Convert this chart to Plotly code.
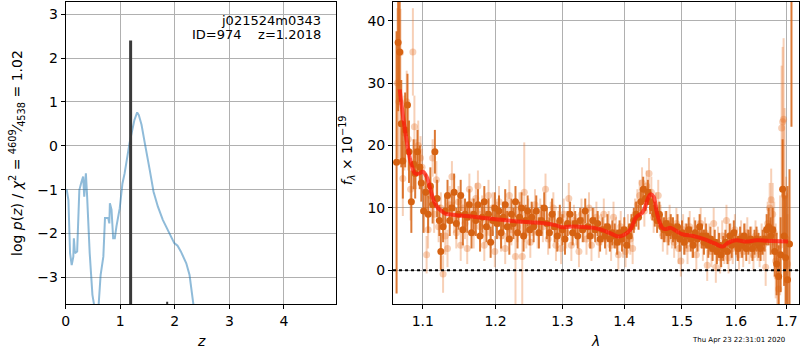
import plotly.graph_objects as go
import numpy as np

# ---------------- data: left panel (p(z)) ----------------
pz_z = [0.01, 0.02, 0.05, 0.08, 0.11, 0.14, 0.15, 0.17, 0.21, 0.25, 0.29, 0.32, 0.34, 0.37, 0.39,
        0.44, 0.49, 0.53, 0.56, 0.60, 0.64, 0.69, 0.72, 0.78, 0.80, 0.81, 0.84, 0.87, 0.90, 0.93,
        0.99, 1.04, 1.08, 1.17, 1.26, 1.31, 1.34, 1.39, 1.45, 1.49, 1.54, 1.61, 1.69, 1.78, 1.90,
        1.99, 2.05, 2.11, 2.21, 2.27, 2.33, 2.37]
pz_logp = [-1.00, -1.01, -1.24, -2.45, -2.72, -2.53, -2.11, -2.45, -2.41, -1.01, -0.82, -0.70, -1.16, -0.63, -1.08,
           -2.45, -3.40, -3.70, -4.20, -3.70, -2.95, -2.53, -1.65, -1.65, -1.77, -1.31, -1.46, -2.11, -2.11, -1.84,
           -1.43, -0.86, -0.63, 0.06, 0.59, 0.76, 0.70, 0.48, 0.06, -0.25, -0.55, -1.05, -1.39, -1.69, -2.00,
           -2.22, -2.28, -2.41, -2.68, -2.95, -3.52, -3.90]
zbest_line_z = [1.19, 1.19]
zbest_line_y = [-4.0, 2.40]
small_tick_z = [1.86, 1.86]
small_tick_y = [-3.70, -3.56]

# ---------------- data: right panel (spectrum) ----------------
dark_wave = [1.066, 1.068, 1.070, 1.072, 1.074, 1.077, 1.080, 1.082, 1.085, 1.088, 1.090, 1.093, 1.096, 1.098,
             1.101, 1.104, 1.107, 1.110, 1.113, 1.116, 1.119, 1.122, 1.124, 1.127, 1.130, 1.133, 1.136, 1.139,
             1.142, 1.145, 1.148, 1.151, 1.154, 1.157, 1.160, 1.163, 1.166, 1.169, 1.172, 1.175, 1.178, 1.181,
             1.184, 1.187, 1.190, 1.193, 1.196, 1.199, 1.202, 1.205, 1.208, 1.211, 1.214, 1.217, 1.220, 1.223,
             1.226, 1.229, 1.232, 1.235, 1.238, 1.241, 1.244, 1.247, 1.250, 1.253, 1.256, 1.260, 1.264, 1.268,
             1.272, 1.276, 1.280, 1.284, 1.288, 1.292, 1.296, 1.300, 1.304, 1.308, 1.312, 1.316, 1.320, 1.324,
             1.328, 1.332, 1.336, 1.340, 1.344, 1.348, 1.352, 1.356, 1.360, 1.364, 1.368, 1.372, 1.376, 1.380,
             1.384, 1.388, 1.392, 1.396, 1.400, 1.404, 1.408, 1.412, 1.416, 1.420, 1.424, 1.428, 1.432, 1.436,
             1.440, 1.444, 1.448, 1.452, 1.456, 1.460, 1.464, 1.468, 1.472, 1.476, 1.480, 1.484, 1.488, 1.492,
             1.496, 1.500, 1.504, 1.508, 1.512, 1.516, 1.520, 1.524, 1.528, 1.532, 1.536, 1.540, 1.544, 1.548,
             1.552, 1.556, 1.560, 1.564, 1.568, 1.572, 1.576, 1.580, 1.584, 1.588, 1.592, 1.596, 1.600, 1.604,
             1.608, 1.612, 1.616, 1.620, 1.624, 1.628, 1.632, 1.636, 1.640, 1.644, 1.648, 1.652, 1.656, 1.660,
             1.664, 1.668, 1.672, 1.676, 1.680, 1.684, 1.688, 1.692, 1.695, 1.698, 1.702, 1.706, 1.710]
dark_flux = [17.3, 36.5, 35.0, 23.5, 17.5, 22.5, 26.5, 19.0, 11.0, 17.0, 15.5, 19.0, 16.5, 14.0,
             9.5, 12.5, 9.0, 13.5, 10.5, 19.0, 11.5, 8.0, 3.0, 7.0, 9.5, 12.0, 8.0, 10.0,
             12.5, 7.5, 9.0, 12.0, 6.5, 9.0, 8.5, 10.5, 6.0, 9.0, 8.0, 10.5, 5.5, 8.5,
             11.0, 7.0, 9.0, 4.5, 8.0, 10.0, 7.5, 9.5, 6.0, 8.5, 10.5, 7.0, 5.0, 9.0,
             7.5, 11.0, 6.0, 8.5, 10.0, 5.5, 8.0, 9.5, 6.5, 8.5, 7.0, 9.5, 6.0, 8.0,
             10.0, 7.5, 6.0, 9.0, 7.0, 5.5, 8.0, 6.5, 5.0, 7.5, 9.0, 6.0, 7.5, 5.5,
             8.0, 6.5, 9.5, 7.0, 5.5, 8.0, 6.5, 7.5, 5.0, 6.5, 5.5, 7.0, 5.0, 6.0,
             5.5, 4.5, 6.0, 5.0, 6.5, 4.0, 5.5, 7.0, 8.0, 9.0, 8.5, 11.0, 13.0, 11.5,
             12.5, 11.0, 10.0, 9.0, 8.0, 9.0, 7.0, 6.5, 7.5, 6.0, 7.0, 6.5, 5.5, 7.0,
             5.0, 6.0, 4.5, 5.5, 6.5, 5.0, 4.0, 6.0, 5.0, 7.0, 5.5, 4.5, 5.5, 4.0,
             5.0, 3.5, 4.5, 3.0, 4.0, 2.5, 3.5, 4.5, 3.0, 5.5, 4.0, 6.0, 4.5, 3.5,
             5.0, 4.0, 5.5, 3.5, 4.5, 5.0, 3.5, 4.5, 5.0, 4.0, 3.5, 4.5, 5.0, 6.5,
             7.0, 5.5, 6.5, 3.0, 1.0, -1.0, 2.5, 13.0, 5.5, 2.0, -1.5, 4.2, 60.0]
dark_err = [21, 11, 8, 7, 6, 6, 5, 5, 5, 4, 4, 3.5, 3.5, 3,
            3.5, 3, 3, 3, 3, 3.5, 3, 2.5, 3, 2.5, 2.5, 2.5, 2.5, 2.5,
            3, 2.5, 2.5, 2.5, 2.5, 2.5, 2.5, 2.5, 2.5, 2.5, 2.5, 2.5, 2.5, 2.5,
            2.5, 2.5, 2.5, 2.5, 2.5, 2.5, 2.5, 2.5, 2.5, 2.5, 2.5, 2.5, 2.5, 2.5,
            2.5, 2.5, 2.5, 2.5, 2.5, 2.5, 2.5, 2.5, 2.5, 2.5, 2.5, 2.5, 2.5, 2.5,
            2.5, 2.5, 2.5, 2.5, 2.5, 2.5, 2.5, 2.5, 2.5, 2, 2, 2, 2, 2,
            2, 2, 2, 2, 2, 2, 2, 2, 2, 2, 2, 2, 2, 2,
            2, 2, 2, 2, 2, 2, 2, 2, 2, 2, 2, 2, 2, 2,
            2, 2, 2, 2, 2, 2, 2, 2, 2, 2, 2, 2, 2, 2,
            2, 2, 2, 2, 2, 2, 2, 2, 2, 2, 2, 2, 2, 2,
            2, 2, 2, 2, 2, 2, 2, 2, 2, 2, 2, 2, 2, 2,
            2, 2, 2, 2, 2, 2, 2, 2, 2, 2, 2, 2, 2, 2.5,
            3, 3, 3.5, 4, 5, 5, 6, 8, 8, 10, 15, 12, 37]

light_wave = [1.067, 1.069, 1.071, 1.074, 1.076, 1.079, 1.081, 1.084, 1.087, 1.089, 1.091, 1.094, 1.097, 1.099,
              1.102, 1.105, 1.107, 1.110, 1.113, 1.115, 1.118, 1.121, 1.124, 1.127, 1.130, 1.133, 1.136, 1.139,
              1.142, 1.145, 1.148, 1.151, 1.154, 1.157, 1.160, 1.163, 1.166, 1.169, 1.172, 1.175, 1.178, 1.181,
              1.184, 1.187, 1.190, 1.193, 1.196, 1.199, 1.202, 1.205, 1.208, 1.211, 1.214, 1.217, 1.220, 1.223,
              1.226, 1.229, 1.232, 1.235, 1.239, 1.242, 1.245, 1.248, 1.251, 1.254, 1.258, 1.262, 1.266, 1.270,
              1.274, 1.278, 1.282, 1.286, 1.290, 1.294, 1.298, 1.302, 1.306, 1.310, 1.314, 1.318, 1.322, 1.326,
              1.330, 1.334, 1.338, 1.342, 1.346, 1.350, 1.354, 1.358, 1.362, 1.366, 1.370, 1.374, 1.378, 1.382,
              1.386, 1.390, 1.394, 1.398, 1.402, 1.406, 1.410, 1.414, 1.418, 1.422, 1.426, 1.430, 1.434, 1.438,
              1.442, 1.446, 1.450, 1.454, 1.458, 1.462, 1.466, 1.470, 1.474, 1.478, 1.482, 1.486, 1.490, 1.494,
              1.498, 1.502, 1.506, 1.510, 1.514, 1.518, 1.522, 1.526, 1.530, 1.534, 1.538, 1.542, 1.546, 1.550,
              1.554, 1.558, 1.562, 1.566, 1.570, 1.574, 1.578, 1.582, 1.586, 1.590, 1.594, 1.598, 1.602, 1.606,
              1.610, 1.614, 1.618, 1.622, 1.626, 1.630, 1.634, 1.638, 1.642, 1.646, 1.650, 1.654, 1.658, 1.662,
              1.666, 1.669, 1.672, 1.675, 1.678, 1.681, 1.684, 1.687, 1.690, 1.692, 1.694, 1.696, 1.699, 1.702]
light_flux = [30.0, 27.0, 34.9, 14.7, 22.0, 27.0, 21.0, 13.0, 35.0, 23.0, 17.0, 20.0, 18.0, 16.5,
              13.0, 2.5, 6.5, 12.0, 18.0, 9.0, 14.5, 7.0, 10.0, -0.6, 5.5, 3.5, 10.5, 15.0,
              8.5, 6.0, 11.0, 4.0, 10.0, 7.5, 3.5, 13.0, 9.0, 6.0, 11.5, 13.5, 7.0, 9.5,
              4.0, 8.0, 12.0, 6.0, 10.0, 3.0, 8.5, 11.0, 5.5, 7.5, 3.5, 9.0, 12.0, 6.5,
              8.0, 2.2, 7.0, 10.0, 2.2, 12.5, 6.0, 9.0, 4.5, 8.0, 10.5, 6.0, 9.0, 7.0,
              13.0, 5.0, 8.5, 10.0, 4.0, 7.0, 3.5, 9.0, 6.0, 11.5, 4.0, 8.0, 6.5, 3.0,
              9.0, 7.0, 5.0, 10.0, 4.0, 7.5, 8.5, 4.5, 6.5, 9.0, 5.0, 7.0, 4.0, 8.5,
              6.0, 2.5, 7.0, 4.5, 3.0, 6.5, 5.0, 3.5, 9.0, 10.5, 12.0, 14.0, 9.5, 13.5,
              15.5, 12.5, 8.5, 10.0, 12.0, 8.0, 5.5, 7.0, 5.0, 8.0, 6.0, 4.5, 7.5, 3.5,
              1.5, 6.5, 5.0, 3.5, 7.0, 4.5, 6.0, 2.5, 5.5, 7.5, 4.0, 6.0, 0.8, 5.0,
              3.0, 7.5, 0.5, 4.5, 2.0, 5.5, 3.5, 8.0, 2.0, 5.0, 3.5, 6.5, 4.0, 2.5,
              5.5, 3.0, 5.0, 6.0, 3.5, 4.5, 2.5, 5.5, 4.0, 3.0, 5.0, 4.0, 0.5, 7.5,
              10.0, 11.3, 9.0, 6.0, 1.5, -1.0, -3.0, 4.0, 22.8, 23.8, 24.2, 12.0, 5.0, 1.0]
light_err = [12, 10, 7, 6, 6, 5, 5, 5, 7, 5, 4, 4, 3.5, 3,
             3, 3, 3, 3, 3, 3, 3, 2.5, 2.5, 3, 3, 3, 3, 2.5,
             2.5, 2.5, 2.5, 2.5, 2.5, 2.5, 2.5, 2.5, 2.5, 2.5, 2.5, 2.5, 2.5, 2.5,
             2.5, 2.5, 2.5, 2.5, 2.5, 2.5, 2.5, 2.5, 2.5, 2.5, 2.5, 2.5, 2.5, 2.5,
             2.5, 8, 2.5, 2.5, 8, 8, 2.5, 2.5, 2.5, 2.5, 2.5, 2.5, 2.5, 2.5,
             2.5, 2.5, 2.5, 2.5, 2.5, 2.5, 2.5, 2.5, 2.5, 2.5, 2.5, 2.5, 2.5, 2.5,
             2.5, 2.5, 2.5, 2.5, 2.5, 2.5, 2.5, 2.5, 2.5, 2.5, 2.5, 2.5, 2.5, 2.5,
             2.5, 2.5, 2.5, 2.5, 2.5, 2.5, 2.5, 2.5, 2.5, 2.5, 2.5, 2.5, 2.5, 2.5,
             2.5, 2.5, 2.5, 2.5, 2.5, 2.5, 2.5, 2.5, 2.5, 2.5, 2.5, 2.5, 2.5, 2.5,
             2.5, 2.5, 2.5, 2.5, 2.5, 2.5, 2.5, 2.5, 2.5, 2.5, 2.5, 2.5, 2.5, 2.5,
             2.5, 2.5, 2.5, 2.5, 2.5, 2.5, 2.5, 2.5, 2.5, 2.5, 2.5, 2.5, 2.5, 2.5,
             2.5, 2.5, 2.5, 2.5, 2.5, 2.5, 2.5, 2.5, 2.5, 2.5, 2.5, 2.5, 3, 3.5,
             4, 5, 5, 5, 6, 6, 7, 8, 10, 12, 13, 14, 10, 8]

model_wave = [1.070, 1.075, 1.080, 1.085, 1.090, 1.095, 1.100, 1.105, 1.110, 1.115, 1.120, 1.125, 1.130,
              1.140, 1.150, 1.175, 1.200, 1.225, 1.250, 1.275, 1.290, 1.300, 1.310, 1.325, 1.350, 1.365,
              1.380, 1.390, 1.400, 1.410, 1.420, 1.430, 1.435, 1.440, 1.445, 1.450, 1.455, 1.460, 1.465,
              1.470, 1.480, 1.490, 1.500, 1.520, 1.540, 1.560, 1.575, 1.585, 1.600, 1.620, 1.640, 1.670, 1.703]
model_flux = [29.0, 24.0, 20.0, 17.0, 15.5, 15.5, 15.8, 15.0, 13.0, 11.0, 10.0, 9.5, 9.1,
              8.9, 8.8, 8.5, 8.2, 7.9, 7.7, 7.5, 7.2, 6.9, 7.0, 7.0, 6.8, 6.4,
              5.8, 5.4, 5.7, 6.5, 8.5, 9.2, 10.0, 11.5, 12.2, 11.8, 9.5, 7.8, 6.8,
              6.6, 6.8, 6.3, 5.8, 5.5, 5.0, 4.3, 3.8, 4.4, 4.8, 4.6, 4.8, 4.7, 4.6]

zero_wave = [1.0615, 1.7255]
zero_flux = [0, 0]

left_xticks = [0, 1, 2, 3, 4]
left_yticks = [-3, -2, -1, 0, 1, 2, 3]
right_xticks = [1.1, 1.2, 1.3, 1.4, 1.5, 1.6, 1.7]
right_yticks = [0, 10, 20, 30, 40]

# ---------------- styles ----------------
DARK = "rgb(214,98,18)"
LIGHT = "rgba(230,110,30,0.32)"
FONT = "DejaVu Sans"
FS = 14

fig = go.Figure()

fig.add_trace(go.Scatter(x=pz_z, y=pz_logp, mode="lines",
                         line=dict(color="rgba(31,119,180,0.5)", width=2),
                         xaxis="x", yaxis="y", showlegend=False))
fig.add_trace(go.Scatter(x=zbest_line_z, y=zbest_line_y, mode="lines",
                         line=dict(color="#3a3a3a", width=3),
                         xaxis="x", yaxis="y", showlegend=False))
fig.add_trace(go.Scatter(x=small_tick_z, y=small_tick_y, mode="lines",
                         line=dict(color="#3a3a3a", width=2),
                         xaxis="x", yaxis="y", showlegend=False))

fig.add_trace(go.Scatter(x=light_wave, y=light_flux, mode="markers",
                         marker=dict(color=LIGHT, size=7, line=dict(width=0)),
                         error_y=dict(type="data", array=light_err, color=LIGHT, thickness=2, width=0),
                         xaxis="x2", yaxis="y2", showlegend=False))
fig.add_trace(go.Scatter(x=dark_wave, y=dark_flux, mode="markers",
                         marker=dict(color=DARK, size=7, line=dict(width=0)),
                         error_y=dict(type="data", array=dark_err, color="rgba(214,98,18,0.85)", thickness=2, width=0),
                         xaxis="x2", yaxis="y2", showlegend=False))
fig.add_trace(go.Scatter(x=model_wave, y=model_flux, mode="lines", line_shape="spline",
                         line=dict(color="rgba(255,20,10,0.7)", width=4),
                         xaxis="x2", yaxis="y2", showlegend=False))
fig.add_trace(go.Scatter(x=zero_wave, y=zero_flux, mode="lines",
                         line=dict(color="black", width=2, dash="dot"),
                         xaxis="x2", yaxis="y2", showlegend=False))

axis_common = dict(showline=True, linecolor="black", linewidth=1, mirror=True,
                   ticks="outside", ticklen=4, tickcolor="black",
                   showgrid=True, gridcolor="#b0b0b0", gridwidth=1, zeroline=False,
                   tickfont=dict(family=FONT, size=FS, color="black"))

W, H = 800, 350
def dx(a, b):
    return [a / W, b / W]
def dy(top, bottom):
    return [(H - bottom) / H, (H - top) / H]

fig.update_layout(
    width=W, height=H, margin=dict(l=0, r=0, t=0, b=0),
    paper_bgcolor="white", plot_bgcolor="white",
    font=dict(family=FONT, size=FS, color="black"),
    xaxis=dict(domain=dx(62, 334), range=[0, 4.96], tickvals=left_xticks, anchor="y", **axis_common),
    yaxis=dict(domain=dy(2, 304), range=[-3.61, 3.28], tickvals=left_yticks, anchor="x",
               tickformat="d", **axis_common),
    xaxis2=dict(domain=dx(391, 799), type="log", range=[np.log10(1.0615), np.log10(1.7255)],
                tickvals=right_xticks, ticktext=[str(v) for v in right_xticks], anchor="y2", **axis_common),
    yaxis2=dict(domain=dy(2, 304), range=[-5.4, 43], tickvals=right_yticks, anchor="x2", **axis_common),
)

ann = [
    dict(text="j021524m0343", x=321, y=20),
    dict(text="ID=974    z=1.2018", x=321, y=35),
]
annotations = []
for a in ann:
    annotations.append(dict(text=a["text"], x=a["x"] / W, y=(H - a["y"]) / H, xref="paper", yref="paper",
                            xanchor="right", yanchor="middle", showarrow=False,
                            font=dict(family=FONT, size=13, color="black")))
annotations += [
    dict(text="log <i>p</i>(<i>z</i>) / <i>χ</i><sup>2</sup> = <sup>4609</sup>⁄<sub>4538</sub> = 1.02",
         x=13 / W, y=(H - 153) / H, xref="paper", yref="paper", textangle=-90,
         xanchor="center", yanchor="middle", showarrow=False, font=dict(family=FONT, size=FS)),
    dict(text="<i>f</i><sub><i>λ</i></sub> × 10<sup>−19</sup>",
         x=345 / W, y=(H - 150) / H, xref="paper", yref="paper", textangle=-90,
         xanchor="center", yanchor="middle", showarrow=False, font=dict(family=FONT, size=FS)),
    dict(text="<i>z</i>", x=198 / W, y=(H - 341) / H, xref="paper", yref="paper",
         xanchor="center", yanchor="middle", showarrow=False, font=dict(family=FONT, size=FS)),
    dict(text="<i>λ</i>", x=594 / W, y=(H - 341) / H, xref="paper", yref="paper",
         xanchor="center", yanchor="middle", showarrow=False, font=dict(family=FONT, size=FS)),
    dict(text="Thu Apr 23 22:31:01 2020", x=787 / W, y=(H - 340) / H, xref="paper", yref="paper",
         xanchor="right", yanchor="middle", showarrow=False, font=dict(family=FONT, size=7)),
]
fig.update_layout(annotations=annotations)

fig.write_html("out.html", config={"displayModeBar": False},
               post_script="document.body.style.margin='0';document.body.style.overflow='hidden';")
